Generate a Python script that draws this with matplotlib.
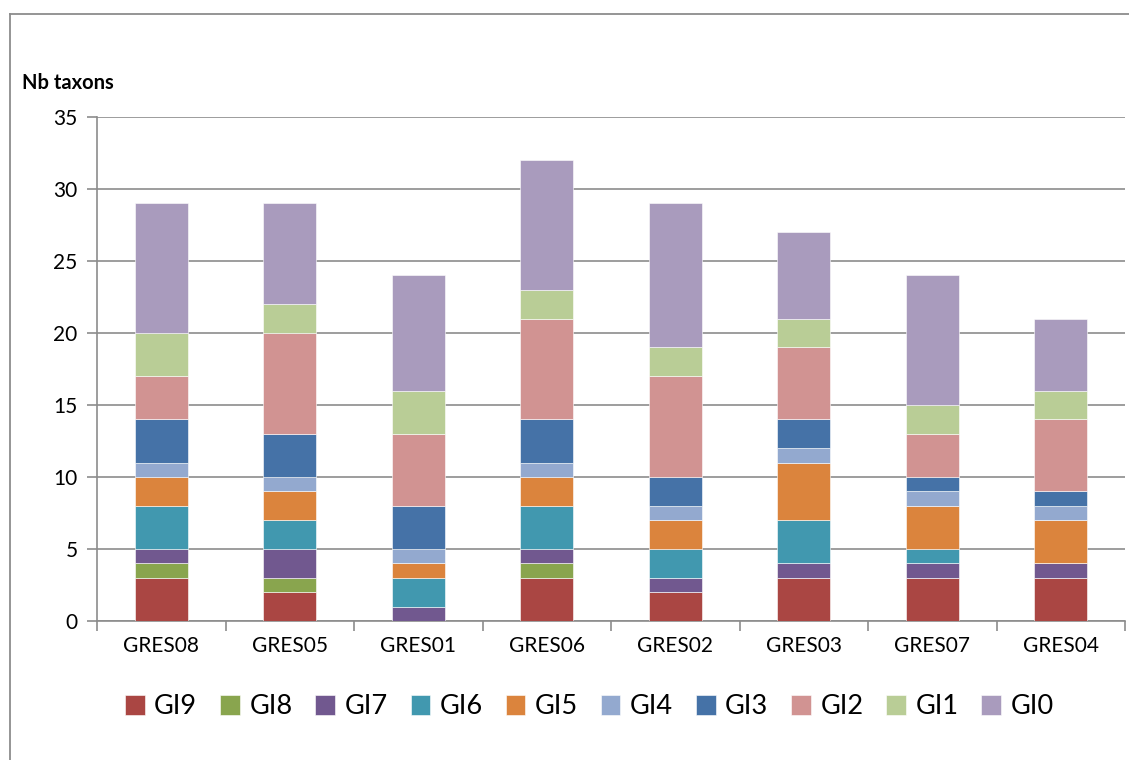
import matplotlib.pyplot as plt
import numpy as np
from matplotlib.lines import Line2D

# station names and the number of taxa in each indicator group
stations = ['GRES08', 'GRES05', 'GRES01', 'GRES06', 'GRES02', 'GRES03', 'GRES07', 'GRES04']
groups = ['GI9', 'GI8', 'GI7', 'GI6', 'GI5', 'GI4', 'GI3', 'GI2', 'GI1', 'GI0']
gi9 = [3, 2, 0, 3, 2, 3, 3, 3]
gi8 = [1, 1, 0, 1, 0, 0, 0, 0]
gi7 = [1, 2, 1, 1, 1, 1, 1, 1]
gi6 = [3, 2, 2, 3, 2, 3, 1, 0]
gi5 = [2, 2, 1, 2, 2, 4, 3, 3]
gi4 = [1, 1, 1, 1, 1, 1, 1, 1]
gi3 = [3, 3, 3, 3, 2, 2, 1, 1]
gi2 = [3, 7, 5, 7, 7, 5, 3, 5]
gi1 = [3, 2, 3, 2, 2, 2, 2, 2]
gi0 = [9, 7, 8, 9, 10, 6, 9, 5]
counts = [gi9, gi8, gi7, gi6, gi5, gi4, gi3, gi2, gi1, gi0]

colors = ['#AA4643', '#89A54E', '#71588F', '#4198AF', '#DB843D',
          '#93A9CF', '#4572A7', '#D19392', '#B9CD96', '#A99BBD']

plt.rcParams['font.family'] = ['Lato', 'DejaVu Sans']

fig = plt.figure(figsize=(11.29, 7.6), dpi=100)
ax = fig.add_axes([97/1129, 1 - 621/760, 1028/1129, 504/760])

xPos = np.arange(len(stations))
bottom = np.zeros(len(stations))
for name, vals, col in zip(groups, counts, colors):
    ax.bar(xPos, vals, 0.41, bottom=bottom, color=col, label=name,
           edgecolor='white', linewidth=0.4, zorder=3)
    bottom += np.array(vals)

ax.set_ylim(0, 35)
ax.set_xlim(-0.5, len(stations) - 0.5)
ax.set_yticks(np.arange(0, 36, 5))
ax.yaxis.grid(True, color='#8c8c8c', linewidth=1.2, zorder=0)
ax.set_xticks(xPos)
ax.set_xticklabels(stations)
# category boundary ticks on the x axis
ax.set_xticks(np.arange(-0.5, len(stations) + 0.5, 1), minor=True)
ax.tick_params(axis='x', which='major', length=0, labelsize=15, pad=11)
ax.tick_params(axis='x', which='minor', length=7, color='#8c8c8c', width=1.2)
ax.tick_params(axis='y', length=7, color='#8c8c8c', width=1.2, labelsize=15, pad=7)
for s in ['top', 'right']:
    ax.spines[s].set_visible(False)
for s in ['left', 'bottom']:
    ax.spines[s].set_color('#8c8c8c')
    ax.spines[s].set_linewidth(1.2)

fig.text(22/1129, 1 - 83/760, 'Nb taxons', fontsize=14.5, fontweight='bold', va='center')

fig.legend(loc='center', bbox_to_anchor=(0.522, 1 - 707/760), ncol=10, frameon=False,
           fontsize=19.5, handlelength=0.72, handleheight=0.72, handletextpad=0.35,
           columnspacing=0.85)

# outer chart frame (top and left edges)
frame_x = 9.5 / 1129
frame_y = 1 - 13.5 / 760
fig.add_artist(Line2D([frame_x, frame_x], [0, frame_y], transform=fig.transFigure,
                      color='#8c8c8c', linewidth=1.3))
fig.add_artist(Line2D([frame_x, 1], [frame_y, frame_y], transform=fig.transFigure,
                      color='#8c8c8c', linewidth=1.3))

fig.savefig('out.png', dpi=100)
